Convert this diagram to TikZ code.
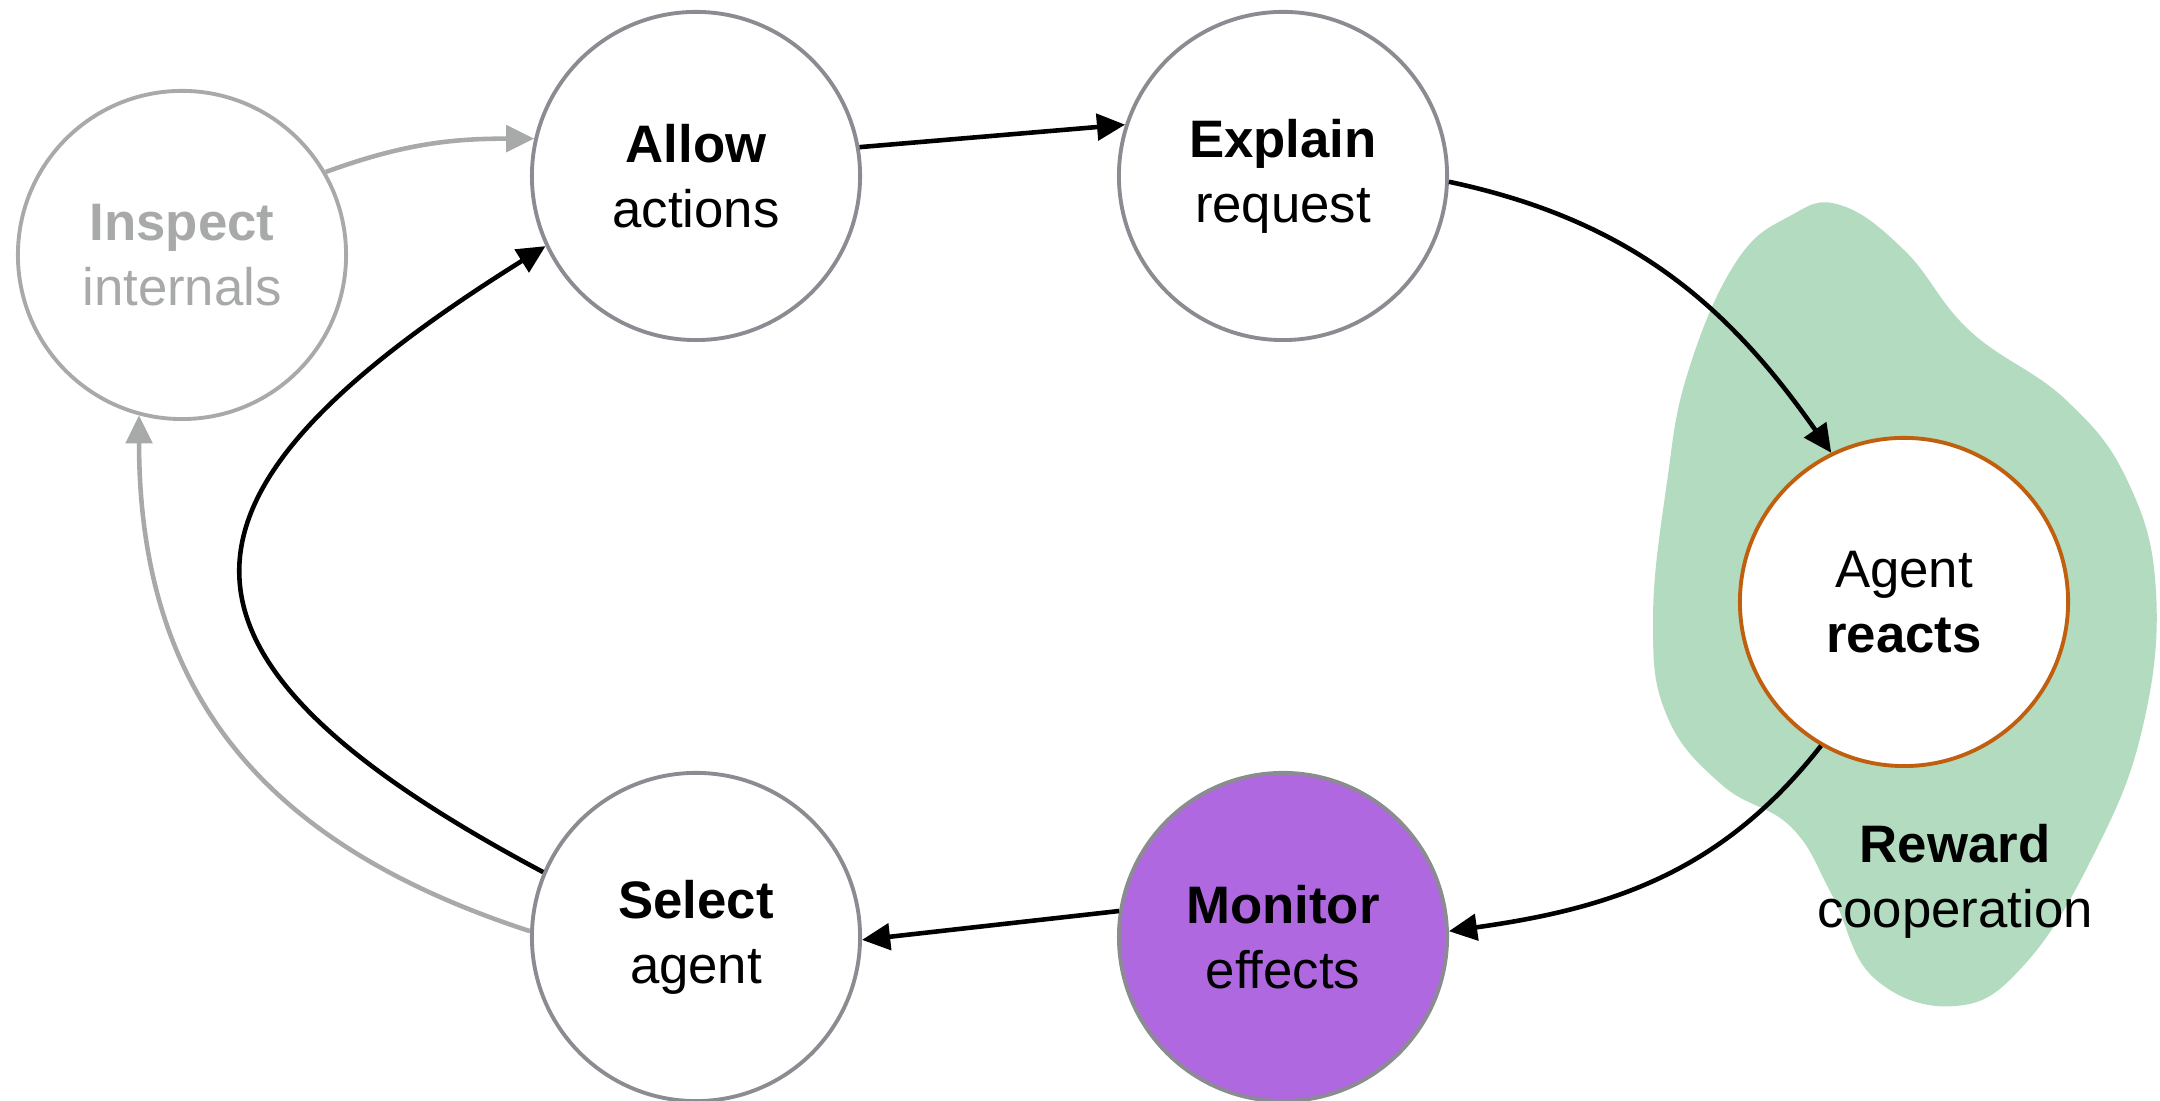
\documentclass[tikz,border=0pt]{standalone}
\usepackage{fontspec}
\setmainfont{Liberation Sans}
\usetikzlibrary{arrows.meta}

\definecolor{bordo}{HTML}{8A8C91}
\definecolor{grigio}{HTML}{A8AAA9}
\definecolor{viola}{HTML}{B068E0}
\definecolor{arancio}{HTML}{C0600F}
\definecolor{verde}{HTML}{B3DBBF}

\tikzset{
  fase/.style={circle, draw=bordo, line width=1.1pt, fill=white,
    minimum size=3.28cm, inner sep=0pt, align=center,
    font=\fontsize{15}{18.5}\selectfont},
  sbiadito/.style={draw=grigio, text=grigio},
  freccia/.style={line width=1.3pt, -{Triangle[length=8pt, width=7.5pt]}},
  frecciagrigia/.style={freccia, draw=grigio}
}

\begin{document}
\begin{tikzpicture}[x=0.01cm, y=0.01cm]
  \useasboundingbox (0,0) rectangle (2160,1101);

  % zona verde
  \fill[verde] plot[smooth cycle, tension=0.7] coordinates {
    (1840,896) (1905,850) (1970,770) (2066,701) (2128,619) (2156,509)
    (2142,371) (2094,247) (2025,137) (1956,95) (1874,123) (1832,206)
    (1791,274) (1722,316) (1667,385) (1653,481) (1667,619) (1688,729)
    (1736,839) (1790,885)};

  % fasi
  \node[fase, sbiadito] (Inspect) at (182,846) {\textbf{Inspect}\\internals};
  \node[fase] (Allow) at (696,925) {\textbf{Allow}\\actions};
  \node[fase] (Explain) at (1283,925) {\textbf{Explain}\\request};
  \node[fase, draw=arancio] (Agent) at (1904,499) {Agent\\\textbf{reacts}};
  \node[fase, fill=viola] (Monitor) at (1283,164) {\textbf{Monitor}\\effects};
  \node[fase] (Select) at (696,164) {\textbf{Select}\\agent};

  \node[align=center, font=\fontsize{15}{18.5}\selectfont] (Reward) at (1955,220)
    {\textbf{Reward}\\cooperation};

  % ciclo principale
  \draw[freccia] (Allow.10) -- (Explain.162);
  \draw[freccia] (Explain.-2) to[out=-12, in=125] (Agent.116);
  \draw[freccia] (Agent.240) to[out=232, in=8] (Monitor.2);
  \draw[freccia] (Monitor.171) -- (Select.-1);
  \draw[freccia] (Select.157) to[out=152, in=212, looseness=1.9] (Allow.205);

  % ramo grigio
  \draw[frecciagrigia] (Select.178) to[out=162, in=270, looseness=1.1] (Inspect.255);
  \draw[frecciagrigia] (Inspect.30) to[out=20, in=180] (Allow.167);
\end{tikzpicture}
\end{document}
